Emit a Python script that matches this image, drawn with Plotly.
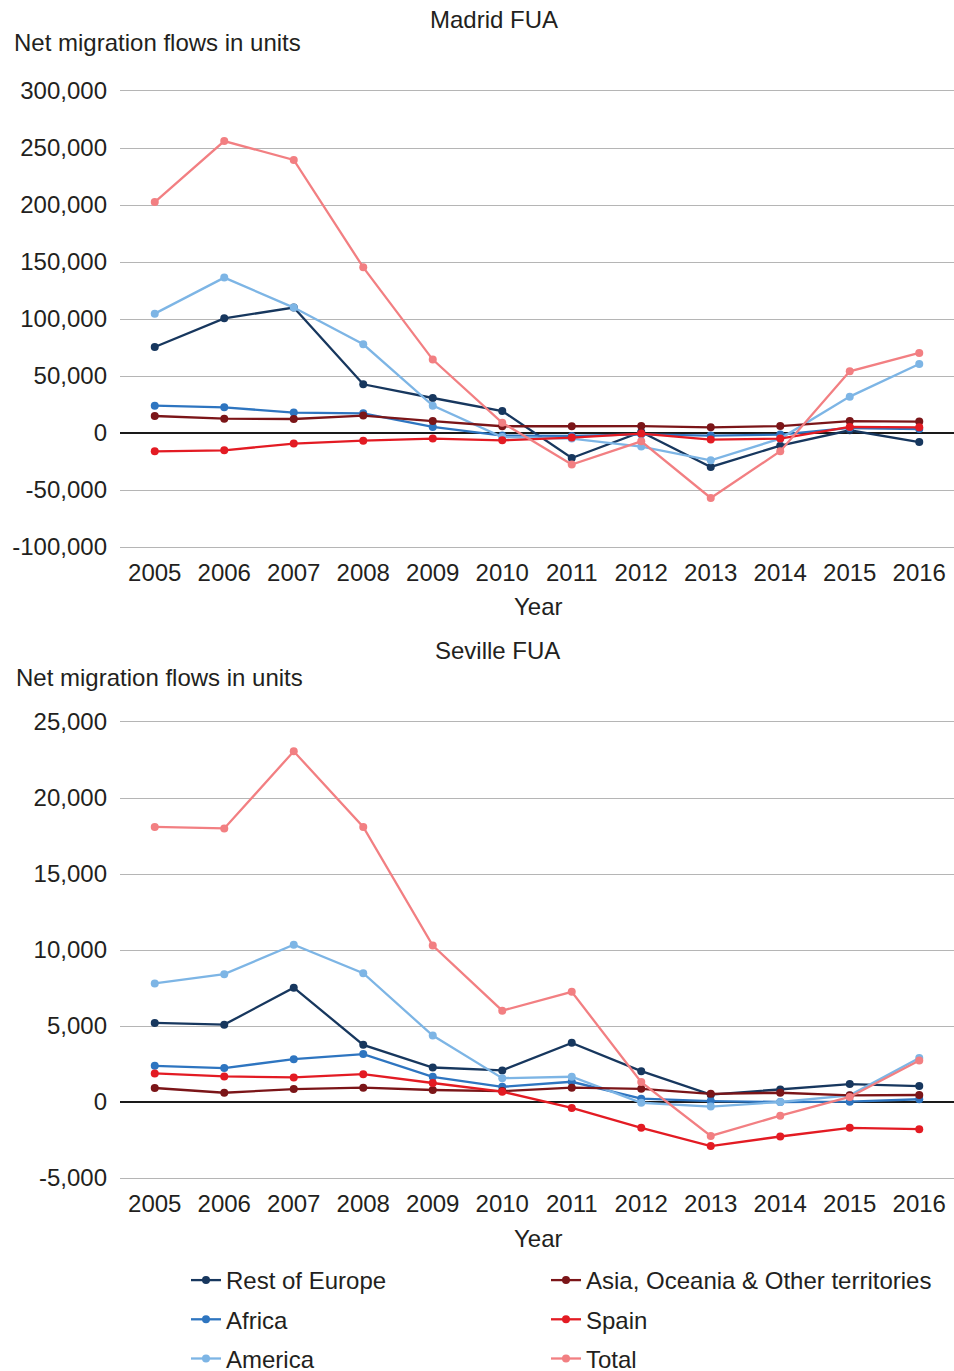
import plotly.graph_objects as go

# Data
years = ["2005", "2006", "2007", "2008", "2009", "2010",
         "2011", "2012", "2013", "2014", "2015", "2016"]

madrid_rest_of_europe = [75400, 100600, 110000, 42700, 30700, 19300,
                         -21900, 900, -29800, -11100, 2400, -7900]
madrid_africa = [24000, 22500, 17900, 17300, 5300, -2300,
                 -2600, -1200, -2300, -1400, 4400, 3500]
madrid_america = [104700, 136300, 110000, 77800, 24000, -3500,
                  -4900, -11900, -24000, -4900, 31900, 60500]
madrid_asia_oceania = [14900, 12600, 12300, 15300, 10500, 5900,
                       5900, 6100, 5000, 6100, 10500, 10000]
madrid_spain = [-16100, -15200, -9300, -6700, -4900, -6400,
                -4000, -500, -5800, -4900, 5300, 5000]
madrid_total = [202600, 256100, 239500, 145300, 64400, 9000,
                -27700, -7300, -57000, -16000, 54100, 70200]

seville_rest_of_europe = [5200, 5090, 7520, 3760, 2270, 2080,
                          3890, 2030, 480, 830, 1180, 1050]
seville_africa = [2380, 2230, 2820, 3150, 1660, 1000,
                  1330, 220, 60, 0, 20, 180]
seville_america = [7800, 8410, 10350, 8470, 4370, 1570,
                   1660, -50, -300, 0, 440, 2900]
seville_asia_oceania = [920, 610, 850, 940, 790, 720,
                        940, 870, 540, 610, 440, 460]
seville_spain = [1880, 1680, 1620, 1830, 1250, 680,
                 -390, -1700, -2900, -2270, -1700, -1790]
seville_total = [18100, 18000, 23070, 18100, 10290, 6010,
                 7250, 1310, -2230, -900, 330, 2730]

madrid_ticks = [-100000, -50000, 0, 50000, 100000, 150000, 200000, 250000, 300000]
madrid_ticktext = ["-100,000", "-50,000", "0", "50,000", "100,000",
                   "150,000", "200,000", "250,000", "300,000"]
seville_ticks = [-5000, 0, 5000, 10000, 15000, 20000, 25000]
seville_ticktext = ["-5,000", "0", "5,000", "10,000", "15,000", "20,000", "25,000"]

series_names = ["Rest of Europe", "Africa", "America",
                "Asia, Oceania & Other territories", "Spain", "Total"]
colors = ["#17375e", "#2e75c0", "#7db5e5", "#7b1518", "#e31b23", "#f27f82"]
legend_ids = ["legend", "legend", "legend", "legend2", "legend2", "legend2"]

madrid_series = [madrid_rest_of_europe, madrid_africa, madrid_america,
                 madrid_asia_oceania, madrid_spain, madrid_total]
seville_series = [seville_rest_of_europe, seville_africa, seville_america,
                  seville_asia_oceania, seville_spain, seville_total]

FONT = "Liberation Sans, Arial, sans-serif"
FS = 24
TXT = "#231f20"
GRID = "#b5b5b5"
W = 954
REF_H = 1371
H = 1381           # the page seems to come out ~10px taller than the window
SY = H / REF_H     # stretch reference rows onto the figure
ML, MR = 120, 0
MT = 90 * SY
MB = H - 1177 * SY
PH = H - MT - MB


def py(ref_y):
    # convert a reference pixel row into paper y
    return (H - MB - ref_y * SY) / PH


def px_x(px):
    return (px - ML) / (W - ML - MR)


fig = go.Figure()

# Madrid panel
for name, vals, col, lg in zip(series_names, madrid_series, colors, legend_ids):
    fig.add_trace(go.Scatter(
        x=years, y=vals, name=name, mode="lines+markers",
        line=dict(color=col, width=2.3), marker=dict(color=col, size=8),
        xaxis="x", yaxis="y", legend=lg, legendgroup=name, showlegend=False
    ))

# Seville panel (carries the legend)
for name, vals, col, lg in zip(series_names, seville_series, colors, legend_ids):
    fig.add_trace(go.Scatter(
        x=years, y=vals, name=name, mode="lines+markers",
        line=dict(color=col, width=2.3), marker=dict(color=col, size=8),
        xaxis="x2", yaxis="y2", legend=lg, legendgroup=name, showlegend=True
    ))

# x axis line mirrored gives the grey lines at the top and bottom of each panel
axis_x = dict(type="category", categoryorder="array", categoryarray=years,
              range=[-0.5, 11.5], showgrid=False, ticks="",
              showline=True, linecolor=GRID, linewidth=1.3, mirror=True,
              zeroline=False, ticklabelstandoff=4,
              tickfont=dict(size=FS, color=TXT, family=FONT))
axis_y = dict(showgrid=True, gridcolor=GRID, gridwidth=1.3,
              zeroline=True, zerolinecolor="#1a1a1a", zerolinewidth=1.5,
              showline=False, ticks="", ticklabelstandoff=12,
              tickfont=dict(size=FS, color=TXT, family=FONT))

madrid_bottom = py(546)
seville_top = py(721)

fig.update_layout(
    width=W, height=round(H),
    margin=dict(l=ML, r=MR, t=round(MT), b=round(MB)),
    paper_bgcolor="white", plot_bgcolor="white",
    font=dict(family=FONT, size=FS, color=TXT),
    xaxis=dict(axis_x, anchor="y"),
    yaxis=dict(axis_y, domain=[madrid_bottom, 1], range=[-100000, 300000],
               tickvals=madrid_ticks, ticktext=madrid_ticktext, anchor="x"),
    xaxis2=dict(axis_x, anchor="y2"),
    yaxis2=dict(axis_y, domain=[0, seville_top], range=[-5000, 25000],
                tickvals=seville_ticks, ticktext=seville_ticktext, anchor="x2"),
    legend=dict(x=px_x(186), y=py(1257), xanchor="left", yanchor="top",
                orientation="v", tracegroupgap=5, bgcolor="rgba(0,0,0,0)",
                font=dict(size=FS, color=TXT, family=FONT)),
    legend2=dict(x=px_x(546), y=py(1257), xanchor="left", yanchor="top",
                 orientation="v", tracegroupgap=5, bgcolor="rgba(0,0,0,0)",
                 font=dict(size=FS, color=TXT, family=FONT)),
)

annotations = [
    ("Madrid FUA", 494, 19, "center"),
    ("Net migration flows in units", 12, 42, "left"),
    ("Year", 538, 606, "center"),
    ("Seville FUA", 497, 649, "center"),
    ("Net migration flows in units", 14, 676, "left"),
    ("Year", 538, 1237, "center"),
]
for text, x, y, anchor in annotations:
    fig.add_annotation(text=text, x=px_x(x), y=py(y), xref="paper", yref="paper",
                       xanchor=anchor, yanchor="middle", showarrow=False,
                       font=dict(size=FS, color=TXT, family=FONT))

fig.write_html("out.html", config={"displayModeBar": False},
               post_script="document.body.style.margin='0';"
                           "var gd=document.getElementById('{plot_id}');"
                           "gd.style.position='fixed';gd.style.top='0';gd.style.left='0';")
